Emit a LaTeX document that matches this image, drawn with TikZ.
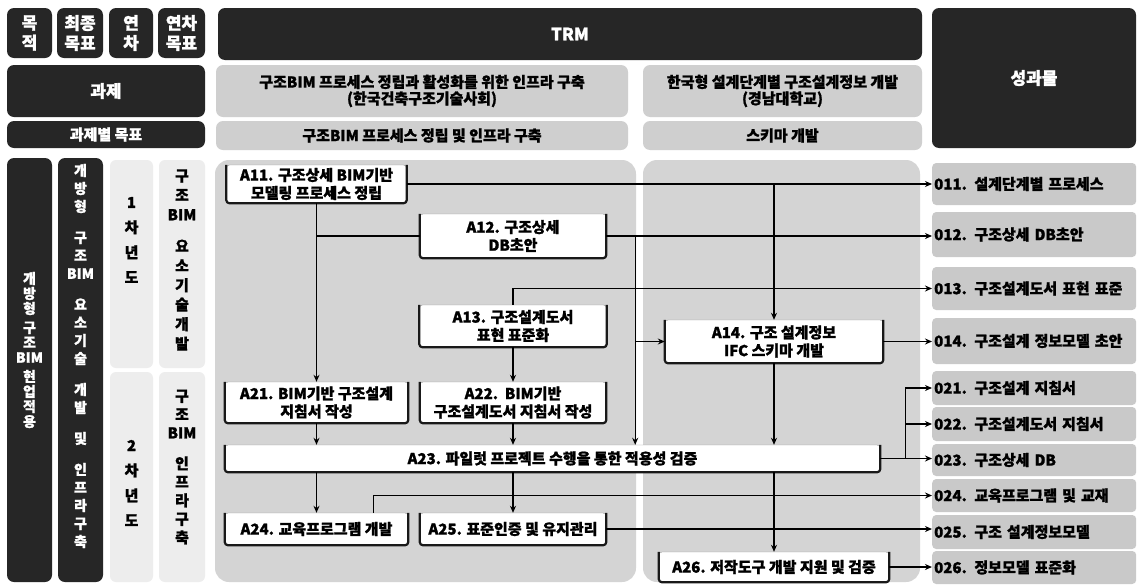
\documentclass[tikz,border=0pt]{standalone}
\usepackage{fontspec}
\setmainfont{Noto Sans CJK KR}[BoldFeatures={FakeBold=1.2}]
\usetikzlibrary{arrows.meta,calc}
\begin{document}
\begin{tikzpicture}[x=1pt,y=-1pt,
  sz/.style 2 args={minimum width=#1pt, minimum height=#2pt},
  dark/.style={fill=black!85, rounded corners=7pt, text=white, font=\bfseries\fontsize{17}{20}\selectfont, align=center, inner sep=0pt},
  light/.style={fill=black!19, rounded corners=7pt, align=center, inner sep=0pt, font=\bfseries\fontsize{15}{16.5}\selectfont},
  pale/.style={fill=black!7, rounded corners=6pt, inner sep=0pt},
  panel/.style={fill=black!17, rounded corners=14pt, inner sep=0pt},
  outbox/.style={fill=black!21, rounded corners=4pt, inner sep=2pt, text width=200pt, align=left, anchor=west, font=\bfseries\fontsize{15}{17}\selectfont},
  task/.style={fill=white, draw=black!40, line width=0.4pt, rounded corners=3pt, align=center, inner sep=0pt, font=\bfseries\fontsize{15}{18}\selectfont},
  bracket/.style={line width=2.2pt, rounded corners=3pt, black!90},
  conn/.style={line width=1.3pt, black},
  arr/.style={conn, -{Stealth[length=7pt,width=6pt]}},
  vtext/.style={align=center, inner sep=0pt},
]
\fill[white] (0,0) rectangle (1140,584);
\useasboundingbox (0,0) rectangle (1140,584);

% header row
\node[dark, sz={45}{50}] (h1) at (29.5,33) {목\\적};
\node[dark, sz={46}{50}] (h2) at (80,33) {최종\\목표};
\node[dark, sz={44}{50}] (h3) at (131,33) {연\\차};
\node[dark, sz={47}{50}] (h4) at (181.5,33) {연차\\목표};
\node[dark, sz={704}{52}] (trm) at (570,34) {TRM};
\node[dark, sz={204}{140}] (out) at (1034,78) {성과물};
\node[dark, sz={198}{52}] (gj) at (106,91) {과제};
\node[dark, sz={198}{27}, font=\bfseries\fontsize{15}{17}\selectfont] (gjm) at (106,134.5) {과제별 목표};
\node[light, sz={412}{52}] (p1h) at (422,91) {구조BIM 프로세스 정립과 활성화를 위한 인프라 구축\\(한국건축구조기술사회)};
\node[light, sz={279}{52}] (p2h) at (782.5,91) {한국형 설계단계별 구조설계정보 개발\\(경남대학교)};
\node[light, sz={412}{29}] (p1g) at (422,135.5) {구조BIM 프로세스 정립 및 인프라 구축};
\node[light, sz={279}{29}] (p2g) at (782.5,135.5) {스키마 개발};

% left columns
\node[dark, sz={45}{424}] (L1) at (29.5,370) {};
\node[dark, sz={45}{424}] (L2) at (80.5,370) {};
\node[pale, sz={43}{208}] (Y1) at (131.5,264) {};
\node[pale, sz={43}{210}] (Y2) at (131.5,477) {};
\node[pale, sz={46}{208}] (T1) at (182,264) {};
\node[pale, sz={46}{210}] (T2) at (182,477) {};
\node[vtext, text=white, font=\bfseries\fontsize{14}{15}\selectfont] (L1t) at (29.5,350) {개\\방\\형\\[4pt]구\\조\\BIM\\[4pt]현\\업\\적\\용};
\node[vtext, text=white, font=\bfseries\fontsize{14}{18}\selectfont] (L2t) at (80.5,356) {개\\방\\형\\[13pt]구\\조\\BIM\\[13pt]요\\소\\기\\술\\[13pt]개\\발\\[13pt]및\\[13pt]인\\프\\라\\구\\축};
\node[vtext, font=\bfseries\fontsize{15}{25}\selectfont] (Y1t) at (131.5,240) {1\\차\\년\\도};
\node[vtext, font=\bfseries\fontsize{15}{25}\selectfont] (Y2t) at (131.5,483) {2\\차\\년\\도};
\node[vtext, font=\bfseries\fontsize{15}{19.5}\selectfont] (T1t) at (182,260) {구\\조\\BIM\\[12pt]요\\소\\기\\술\\개\\발};
\node[vtext, font=\bfseries\fontsize{15}{18.5}\selectfont] (T2t) at (182,467) {구\\조\\BIM\\[12pt]인\\프\\라\\구\\축};

% panels
\node[panel, sz={421}{422}] (P1) at (425.5,371) {};
\node[panel, sz={277}{422}] (P2) at (781.5,371) {};

% outputs
\node[outbox, minimum height=42pt] (O11) at (932,184) {011. 설계단계별 프로세스};
\node[outbox, minimum height=45pt] (O12) at (932,234.5) {012. 구조상세 DB초안};
\node[outbox, minimum height=43pt] (O13) at (932,288.5) {013. 구조설계도서 표현 표준};
\node[outbox, minimum height=46pt] (O14) at (932,341) {014. 구조설계 정보모델 초안};
\node[outbox, minimum height=34pt] (O21) at (932,388) {021. 구조설계 지침서};
\node[outbox, minimum height=34pt] (O22) at (932,424) {022. 구조설계도서 지침서};
\node[outbox, minimum height=32pt] (O23) at (932,460) {023. 구조상세 DB};
\node[outbox, minimum height=33pt] (O24) at (932,495.5) {024. 교육프로그램 및 교재};
\node[outbox, minimum height=34pt] (O25) at (932,532) {025. 구조 설계정보모델};
\node[outbox, minimum height=33pt] (O26) at (932,567.5) {026. 정보모델 표준화};

% tasks
\node[task, sz={180}{38}] (A11) at (316.5,184) {A11. 구조상세 BIM기반\\모델링 프로세스 정립};
\node[task, sz={186}{44}] (A12) at (513,236) {A12. 구조상세\\DB초안};
\node[task, sz={187}{42}] (A13) at (513,326) {A13. 구조설계도서\\표현 표준화};
\node[task, sz={218}{43}] (A14) at (774,341.5) {A14. 구조 설계정보\\IFC 스키마 개발};
\node[task, sz={183}{41}] (A21) at (316.5,402.5) {A21. BIM기반 구조설계\\지침서 작성};
\node[task, sz={186}{41}] (A22) at (513,402.5) {A22.~~BIM기반\\구조설계도서 지침서 작성};
\node[task, sz={655}{27}] (A23) at (552.5,458.5) {A23. 파일럿 프로젝트 수행을 통한 적용성 검증};
\node[task, sz={183}{32}] (A24) at (316.5,529) {A24. 교육프로그램 개발};
\node[task, sz={186}{32}] (A25) at (513,529) {A25. 표준인증 및 유지관리};
\node[task, sz={230}{30}] (A26) at (774,567) {A26. 저작도구 개발 지원 및 검증};
\foreach \n in {A11,A12,A13,A14,A21,A22,A23,A24,A25,A26}
  \draw[bracket] (\n.north west) -- (\n.south west) -- (\n.south east) -- (\n.north east);

% connectors
\draw[arr] (A11.east) -- (O11.west |- A11.east);
\draw[arr] (A14.north |- A11.east) -- (A14.north);
\draw[arr] (A11.south) -- (A21.north);
\draw[conn] (A12.west) -- (A12.west -| A11.south);
\draw[arr] (A12.east) -- (O12.west |- A12.east);
\coordinate (J1) at ($(A12.east)+(29,0)$);
\draw[arr] (J1) -- (J1 |- A23.north);
\draw[arr] (J1 |- A14.west) -- (A14.west);
\draw[arr] (A13.north) -- (A13.north |- O13.west) -- (O13.west);
\draw[arr] (A13.south) -- (A22.north);
\draw[arr] (A14.east) -- (O14.west |- A14.east);
\draw[arr] (A14.south) -- (A14.south |- A23.north);
\draw[arr] (A14.south |- A23.south) -- (A26.north);
\draw[arr] (A21.south) -- (A21.south |- A23.north);
\draw[arr] (A22.south) -- (A22.south |- A23.north);
\draw[arr] (A24.north |- A23.south) -- (A24.north);
\draw[arr] (A25.north |- A23.south) -- (A25.north);
\draw[arr] (A23.east) -- (O23.west |- A23.east);
\coordinate (J2) at ($(A23.east)+(25,0)$);
\draw[arr] (J2) -- (J2 |- O21.west) -- (O21.west);
\draw[arr] (J2 |- O22.west) -- (O22.west);
\coordinate (K) at ($(A24.north east)+(-35,0)$);
\draw[arr] (K) -- (K |- O24.west) -- (O24.west);
\draw[arr] (A25.east) -- (O25.west |- A25.east);
\draw[arr] (A26.east) -- (O26.west |- A26.east);
\end{tikzpicture}
\end{document}
